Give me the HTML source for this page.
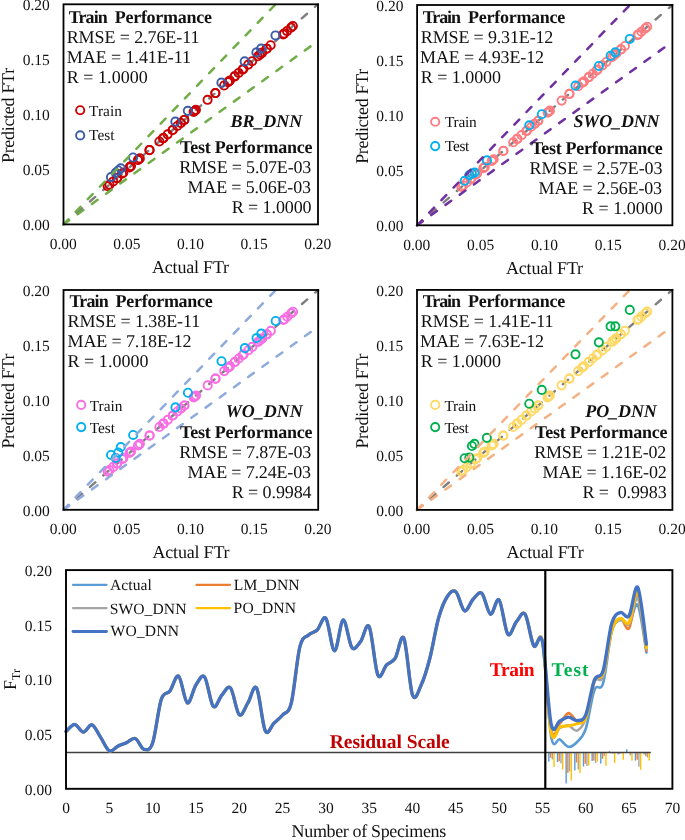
<!DOCTYPE html>
<html><head><meta charset="utf-8"><style>
html,body{margin:0;padding:0;background:#fff;width:685px;height:840px;overflow:hidden;}
svg{display:block;will-change:transform;font-family:"Liberation Serif", serif;text-rendering:geometricPrecision;}
</style></head><body>
<svg width="685" height="840" viewBox="0 0 685 840" font-family='"Liberation Serif", serif' fill="#111"><line x1="63.50" y1="224.40" x2="318.00" y2="4.30" stroke="#7F7F7F" stroke-width="2.4" stroke-dasharray="7 10.5" stroke-linecap="round"/>
<circle cx="130.18" cy="166.73" r="4.1" fill="none" stroke="#CC0000" stroke-width="1.9"/>
<circle cx="138.33" cy="159.69" r="4.1" fill="none" stroke="#CC0000" stroke-width="1.9"/>
<circle cx="129.48" cy="167.34" r="4.1" fill="none" stroke="#CC0000" stroke-width="1.9"/>
<circle cx="137.98" cy="159.99" r="4.1" fill="none" stroke="#CC0000" stroke-width="1.9"/>
<circle cx="123.31" cy="172.67" r="4.1" fill="none" stroke="#CC0000" stroke-width="1.9"/>
<circle cx="107.72" cy="186.16" r="4.1" fill="none" stroke="#CC0000" stroke-width="1.9"/>
<circle cx="113.19" cy="181.43" r="4.1" fill="none" stroke="#CC0000" stroke-width="1.9"/>
<circle cx="117.26" cy="177.90" r="4.1" fill="none" stroke="#CC0000" stroke-width="1.9"/>
<circle cx="122.03" cy="173.78" r="4.1" fill="none" stroke="#CC0000" stroke-width="1.9"/>
<circle cx="109.47" cy="184.65" r="4.1" fill="none" stroke="#CC0000" stroke-width="1.9"/>
<circle cx="116.80" cy="178.31" r="4.1" fill="none" stroke="#CC0000" stroke-width="1.9"/>
<circle cx="167.65" cy="134.33" r="4.1" fill="none" stroke="#CC0000" stroke-width="1.9"/>
<circle cx="177.31" cy="125.97" r="4.1" fill="none" stroke="#CC0000" stroke-width="1.9"/>
<circle cx="194.65" cy="110.98" r="4.1" fill="none" stroke="#CC0000" stroke-width="1.9"/>
<circle cx="163.46" cy="137.95" r="4.1" fill="none" stroke="#CC0000" stroke-width="1.9"/>
<circle cx="184.29" cy="119.94" r="4.1" fill="none" stroke="#CC0000" stroke-width="1.9"/>
<circle cx="193.60" cy="111.88" r="4.1" fill="none" stroke="#CC0000" stroke-width="1.9"/>
<circle cx="159.39" cy="141.47" r="4.1" fill="none" stroke="#CC0000" stroke-width="1.9"/>
<circle cx="172.65" cy="130.00" r="4.1" fill="none" stroke="#CC0000" stroke-width="1.9"/>
<circle cx="180.80" cy="122.95" r="4.1" fill="none" stroke="#CC0000" stroke-width="1.9"/>
<circle cx="149.61" cy="149.93" r="4.1" fill="none" stroke="#CC0000" stroke-width="1.9"/>
<circle cx="163.46" cy="137.95" r="4.1" fill="none" stroke="#CC0000" stroke-width="1.9"/>
<circle cx="180.80" cy="122.95" r="4.1" fill="none" stroke="#CC0000" stroke-width="1.9"/>
<circle cx="130.99" cy="166.03" r="4.1" fill="none" stroke="#CC0000" stroke-width="1.9"/>
<circle cx="139.84" cy="158.38" r="4.1" fill="none" stroke="#CC0000" stroke-width="1.9"/>
<circle cx="149.38" cy="150.13" r="4.1" fill="none" stroke="#CC0000" stroke-width="1.9"/>
<circle cx="163.00" cy="138.35" r="4.1" fill="none" stroke="#CC0000" stroke-width="1.9"/>
<circle cx="228.86" cy="81.39" r="4.1" fill="none" stroke="#CC0000" stroke-width="1.9"/>
<circle cx="242.48" cy="69.62" r="4.1" fill="none" stroke="#CC0000" stroke-width="1.9"/>
<circle cx="248.29" cy="64.58" r="4.1" fill="none" stroke="#CC0000" stroke-width="1.9"/>
<circle cx="261.91" cy="52.81" r="4.1" fill="none" stroke="#CC0000" stroke-width="1.9"/>
<circle cx="224.09" cy="85.52" r="4.1" fill="none" stroke="#CC0000" stroke-width="1.9"/>
<circle cx="259.93" cy="54.52" r="4.1" fill="none" stroke="#CC0000" stroke-width="1.9"/>
<circle cx="227.93" cy="82.20" r="4.1" fill="none" stroke="#CC0000" stroke-width="1.9"/>
<circle cx="234.68" cy="76.36" r="4.1" fill="none" stroke="#CC0000" stroke-width="1.9"/>
<circle cx="252.13" cy="61.26" r="4.1" fill="none" stroke="#CC0000" stroke-width="1.9"/>
<circle cx="195.93" cy="109.87" r="4.1" fill="none" stroke="#CC0000" stroke-width="1.9"/>
<circle cx="207.57" cy="99.81" r="4.1" fill="none" stroke="#CC0000" stroke-width="1.9"/>
<circle cx="215.36" cy="93.06" r="4.1" fill="none" stroke="#CC0000" stroke-width="1.9"/>
<circle cx="238.64" cy="72.94" r="4.1" fill="none" stroke="#CC0000" stroke-width="1.9"/>
<circle cx="172.65" cy="130.00" r="4.1" fill="none" stroke="#CC0000" stroke-width="1.9"/>
<circle cx="184.29" cy="119.94" r="4.1" fill="none" stroke="#CC0000" stroke-width="1.9"/>
<circle cx="215.36" cy="93.06" r="4.1" fill="none" stroke="#CC0000" stroke-width="1.9"/>
<circle cx="261.91" cy="52.81" r="4.1" fill="none" stroke="#CC0000" stroke-width="1.9"/>
<circle cx="287.05" cy="31.07" r="4.1" fill="none" stroke="#CC0000" stroke-width="1.9"/>
<circle cx="292.86" cy="26.04" r="4.1" fill="none" stroke="#CC0000" stroke-width="1.9"/>
<circle cx="270.64" cy="45.26" r="4.1" fill="none" stroke="#CC0000" stroke-width="1.9"/>
<circle cx="284.14" cy="33.59" r="4.1" fill="none" stroke="#CC0000" stroke-width="1.9"/>
<circle cx="291.00" cy="27.65" r="4.1" fill="none" stroke="#CC0000" stroke-width="1.9"/>
<circle cx="266.68" cy="48.68" r="4.1" fill="none" stroke="#CC0000" stroke-width="1.9"/>
<circle cx="283.21" cy="34.39" r="4.1" fill="none" stroke="#CC0000" stroke-width="1.9"/>
<circle cx="243.41" cy="68.81" r="4.1" fill="none" stroke="#CC0000" stroke-width="1.9"/>
<circle cx="257.95" cy="56.23" r="4.1" fill="none" stroke="#CC0000" stroke-width="1.9"/>
<circle cx="266.68" cy="48.68" r="4.1" fill="none" stroke="#CC0000" stroke-width="1.9"/>
<circle cx="229.91" cy="80.48" r="4.1" fill="none" stroke="#CC0000" stroke-width="1.9"/>
<circle cx="234.68" cy="76.36" r="4.1" fill="none" stroke="#CC0000" stroke-width="1.9"/>
<circle cx="115.67" cy="172.79" r="4.1" fill="none" stroke="#3A5CAA" stroke-width="1.9"/>
<circle cx="120.76" cy="168.38" r="4.1" fill="none" stroke="#3A5CAA" stroke-width="1.9"/>
<circle cx="110.96" cy="177.08" r="4.1" fill="none" stroke="#3A5CAA" stroke-width="1.9"/>
<circle cx="118.22" cy="170.48" r="4.1" fill="none" stroke="#3A5CAA" stroke-width="1.9"/>
<circle cx="133.11" cy="157.49" r="4.1" fill="none" stroke="#3A5CAA" stroke-width="1.9"/>
<circle cx="175.35" cy="121.61" r="4.1" fill="none" stroke="#3A5CAA" stroke-width="1.9"/>
<circle cx="187.82" cy="110.83" r="4.1" fill="none" stroke="#3A5CAA" stroke-width="1.9"/>
<circle cx="244.70" cy="61.42" r="4.1" fill="none" stroke="#3A5CAA" stroke-width="1.9"/>
<circle cx="261.12" cy="48.65" r="4.1" fill="none" stroke="#3A5CAA" stroke-width="1.9"/>
<circle cx="256.41" cy="52.39" r="4.1" fill="none" stroke="#3A5CAA" stroke-width="1.9"/>
<circle cx="275.50" cy="35.44" r="4.1" fill="none" stroke="#3A5CAA" stroke-width="1.9"/>
<circle cx="221.42" cy="82.66" r="4.1" fill="none" stroke="#3A5CAA" stroke-width="1.9"/>
<line x1="63.50" y1="224.40" x2="275.58" y2="4.30" stroke="#70AD47" stroke-width="2.5" stroke-dasharray="7 10.5" stroke-linecap="round"/>
<line x1="63.50" y1="224.40" x2="318.00" y2="40.98" stroke="#70AD47" stroke-width="2.5" stroke-dasharray="7 10.5" stroke-linecap="round"/>
<rect x="63.50" y="4.30" width="254.50" height="220.10" fill="none" stroke="#000" stroke-width="1.8"/>
<text x="49.80" y="230.40" font-size="15.5" text-anchor="end" xml:space="preserve">0.00</text>
<text x="49.80" y="175.38" font-size="15.5" text-anchor="end" xml:space="preserve">0.05</text>
<text x="49.80" y="120.35" font-size="15.5" text-anchor="end" xml:space="preserve">0.10</text>
<text x="49.80" y="65.33" font-size="15.5" text-anchor="end" xml:space="preserve">0.15</text>
<text x="49.80" y="10.30" font-size="15.5" text-anchor="end" xml:space="preserve">0.20</text>
<text x="63.20" y="248.60" font-size="15.5" text-anchor="middle" xml:space="preserve">0.00</text>
<text x="126.82" y="248.60" font-size="15.5" text-anchor="middle" xml:space="preserve">0.05</text>
<text x="190.45" y="248.60" font-size="15.5" text-anchor="middle" xml:space="preserve">0.10</text>
<text x="254.07" y="248.60" font-size="15.5" text-anchor="middle" xml:space="preserve">0.15</text>
<text x="317.70" y="248.60" font-size="15.5" text-anchor="middle" xml:space="preserve">0.20</text>
<text id="p1xt" x="152.00" y="272.60" font-size="18.0" textLength="77.08" lengthAdjust="spacing" xml:space="preserve">Actual FTr</text>
<text transform="translate(14.00,115.45) rotate(-90)" font-size="18.0" text-anchor="middle" textLength="95.2" lengthAdjust="spacing">Predicted FTr</text>
<circle cx="80.20" cy="110.20" r="4.1" fill="none" stroke="#CC0000" stroke-width="1.9"/>
<circle cx="80.20" cy="135.40" r="4.1" fill="none" stroke="#3A5CAA" stroke-width="1.9"/>
<text id="p1tTrain" x="68.70" y="23.10" font-size="18.0" font-weight="bold" textLength="39.17" lengthAdjust="spacing" xml:space="preserve">Train</text>
<text id="p1tPerf" x="114.70" y="23.10" font-size="18.0" font-weight="bold" textLength="97.31" lengthAdjust="spacing" xml:space="preserve">Performance</text>
<text id="p1tRMSE" x="66.70" y="43.00" font-size="18.0" textLength="132.71" lengthAdjust="spacing" xml:space="preserve">RMSE = 2.76E-11</text>
<text id="p1tMAE" x="66.80" y="63.00" font-size="18.0" textLength="124.12" lengthAdjust="spacing" xml:space="preserve">MAE = 1.41E-11</text>
<text id="p1tR" x="66.70" y="82.90" font-size="18.0" textLength="81.12" lengthAdjust="spacing" xml:space="preserve">R = 1.0000</text>
<text id="p1name" x="230.60" y="126.90" font-size="18.0" font-weight="bold" font-style="italic" textLength="71.54" lengthAdjust="spacing" xml:space="preserve">BR_DNN</text>
<text id="p1sTP" x="180.10" y="152.70" font-size="18.0" font-weight="bold" textLength="132.38" lengthAdjust="spacing" xml:space="preserve">Test Performance</text>
<text id="p1sRMSE" x="179.20" y="172.60" font-size="18.0" textLength="132.10" lengthAdjust="spacing" xml:space="preserve">RMSE = 5.07E-03</text>
<text id="p1sMAE" x="187.50" y="192.90" font-size="18.0" textLength="123.49" lengthAdjust="spacing" xml:space="preserve">MAE = 5.06E-03</text>
<text id="p1sR" x="231.80" y="212.70" font-size="18.0" textLength="79.78" lengthAdjust="spacing" xml:space="preserve">R = 1.0000</text>
<text id="p1lTrain" x="89.10" y="116.00" font-size="15.4" textLength="32.80" lengthAdjust="spacing" xml:space="preserve">Train</text>
<text id="p1lTest" x="89.10" y="140.20" font-size="15.4" textLength="25.44" lengthAdjust="spacing" xml:space="preserve">Test</text>
<line x1="417.10" y1="225.30" x2="672.40" y2="5.00" stroke="#7F7F7F" stroke-width="2.4" stroke-dasharray="7 10.5" stroke-linecap="round"/>
<circle cx="483.99" cy="167.58" r="4.1" fill="none" stroke="#FF7C80" stroke-width="1.9"/>
<circle cx="492.16" cy="160.53" r="4.1" fill="none" stroke="#FF7C80" stroke-width="1.9"/>
<circle cx="483.29" cy="168.19" r="4.1" fill="none" stroke="#FF7C80" stroke-width="1.9"/>
<circle cx="491.81" cy="160.83" r="4.1" fill="none" stroke="#FF7C80" stroke-width="1.9"/>
<circle cx="477.10" cy="173.52" r="4.1" fill="none" stroke="#FF7C80" stroke-width="1.9"/>
<circle cx="461.46" cy="187.02" r="4.1" fill="none" stroke="#FF7C80" stroke-width="1.9"/>
<circle cx="466.95" cy="182.29" r="4.1" fill="none" stroke="#FF7C80" stroke-width="1.9"/>
<circle cx="471.03" cy="178.76" r="4.1" fill="none" stroke="#FF7C80" stroke-width="1.9"/>
<circle cx="475.82" cy="174.63" r="4.1" fill="none" stroke="#FF7C80" stroke-width="1.9"/>
<circle cx="463.21" cy="185.51" r="4.1" fill="none" stroke="#FF7C80" stroke-width="1.9"/>
<circle cx="470.56" cy="179.16" r="4.1" fill="none" stroke="#FF7C80" stroke-width="1.9"/>
<circle cx="521.58" cy="135.15" r="4.1" fill="none" stroke="#FF7C80" stroke-width="1.9"/>
<circle cx="531.27" cy="126.78" r="4.1" fill="none" stroke="#FF7C80" stroke-width="1.9"/>
<circle cx="548.66" cy="111.78" r="4.1" fill="none" stroke="#FF7C80" stroke-width="1.9"/>
<circle cx="517.38" cy="138.77" r="4.1" fill="none" stroke="#FF7C80" stroke-width="1.9"/>
<circle cx="538.27" cy="120.74" r="4.1" fill="none" stroke="#FF7C80" stroke-width="1.9"/>
<circle cx="547.61" cy="112.68" r="4.1" fill="none" stroke="#FF7C80" stroke-width="1.9"/>
<circle cx="513.29" cy="142.30" r="4.1" fill="none" stroke="#FF7C80" stroke-width="1.9"/>
<circle cx="526.60" cy="130.81" r="4.1" fill="none" stroke="#FF7C80" stroke-width="1.9"/>
<circle cx="534.77" cy="123.76" r="4.1" fill="none" stroke="#FF7C80" stroke-width="1.9"/>
<circle cx="503.48" cy="150.76" r="4.1" fill="none" stroke="#FF7C80" stroke-width="1.9"/>
<circle cx="517.38" cy="138.77" r="4.1" fill="none" stroke="#FF7C80" stroke-width="1.9"/>
<circle cx="534.77" cy="123.76" r="4.1" fill="none" stroke="#FF7C80" stroke-width="1.9"/>
<circle cx="484.81" cy="166.88" r="4.1" fill="none" stroke="#FF7C80" stroke-width="1.9"/>
<circle cx="493.68" cy="159.22" r="4.1" fill="none" stroke="#FF7C80" stroke-width="1.9"/>
<circle cx="503.25" cy="150.96" r="4.1" fill="none" stroke="#FF7C80" stroke-width="1.9"/>
<circle cx="516.91" cy="139.17" r="4.1" fill="none" stroke="#FF7C80" stroke-width="1.9"/>
<circle cx="582.98" cy="82.16" r="4.1" fill="none" stroke="#FF7C80" stroke-width="1.9"/>
<circle cx="596.64" cy="70.37" r="4.1" fill="none" stroke="#FF7C80" stroke-width="1.9"/>
<circle cx="602.48" cy="65.34" r="4.1" fill="none" stroke="#FF7C80" stroke-width="1.9"/>
<circle cx="616.13" cy="53.55" r="4.1" fill="none" stroke="#FF7C80" stroke-width="1.9"/>
<circle cx="578.19" cy="86.29" r="4.1" fill="none" stroke="#FF7C80" stroke-width="1.9"/>
<circle cx="614.15" cy="55.27" r="4.1" fill="none" stroke="#FF7C80" stroke-width="1.9"/>
<circle cx="582.05" cy="82.97" r="4.1" fill="none" stroke="#FF7C80" stroke-width="1.9"/>
<circle cx="588.82" cy="77.12" r="4.1" fill="none" stroke="#FF7C80" stroke-width="1.9"/>
<circle cx="606.33" cy="62.01" r="4.1" fill="none" stroke="#FF7C80" stroke-width="1.9"/>
<circle cx="549.94" cy="110.67" r="4.1" fill="none" stroke="#FF7C80" stroke-width="1.9"/>
<circle cx="561.62" cy="100.59" r="4.1" fill="none" stroke="#FF7C80" stroke-width="1.9"/>
<circle cx="569.44" cy="93.85" r="4.1" fill="none" stroke="#FF7C80" stroke-width="1.9"/>
<circle cx="592.79" cy="73.70" r="4.1" fill="none" stroke="#FF7C80" stroke-width="1.9"/>
<circle cx="526.60" cy="130.81" r="4.1" fill="none" stroke="#FF7C80" stroke-width="1.9"/>
<circle cx="538.27" cy="120.74" r="4.1" fill="none" stroke="#FF7C80" stroke-width="1.9"/>
<circle cx="569.44" cy="93.85" r="4.1" fill="none" stroke="#FF7C80" stroke-width="1.9"/>
<circle cx="616.13" cy="53.55" r="4.1" fill="none" stroke="#FF7C80" stroke-width="1.9"/>
<circle cx="641.35" cy="31.79" r="4.1" fill="none" stroke="#FF7C80" stroke-width="1.9"/>
<circle cx="647.19" cy="26.76" r="4.1" fill="none" stroke="#FF7C80" stroke-width="1.9"/>
<circle cx="624.89" cy="46.00" r="4.1" fill="none" stroke="#FF7C80" stroke-width="1.9"/>
<circle cx="638.43" cy="34.31" r="4.1" fill="none" stroke="#FF7C80" stroke-width="1.9"/>
<circle cx="645.32" cy="28.37" r="4.1" fill="none" stroke="#FF7C80" stroke-width="1.9"/>
<circle cx="620.92" cy="49.42" r="4.1" fill="none" stroke="#FF7C80" stroke-width="1.9"/>
<circle cx="637.50" cy="35.12" r="4.1" fill="none" stroke="#FF7C80" stroke-width="1.9"/>
<circle cx="597.57" cy="69.57" r="4.1" fill="none" stroke="#FF7C80" stroke-width="1.9"/>
<circle cx="612.16" cy="56.98" r="4.1" fill="none" stroke="#FF7C80" stroke-width="1.9"/>
<circle cx="620.92" cy="49.42" r="4.1" fill="none" stroke="#FF7C80" stroke-width="1.9"/>
<circle cx="584.03" cy="81.25" r="4.1" fill="none" stroke="#FF7C80" stroke-width="1.9"/>
<circle cx="588.82" cy="77.12" r="4.1" fill="none" stroke="#FF7C80" stroke-width="1.9"/>
<circle cx="469.44" cy="174.96" r="4.1" fill="none" stroke="#00B0F0" stroke-width="1.9"/>
<circle cx="474.54" cy="172.65" r="4.1" fill="none" stroke="#00B0F0" stroke-width="1.9"/>
<circle cx="464.71" cy="180.80" r="4.1" fill="none" stroke="#00B0F0" stroke-width="1.9"/>
<circle cx="471.99" cy="173.53" r="4.1" fill="none" stroke="#00B0F0" stroke-width="1.9"/>
<circle cx="486.92" cy="160.42" r="4.1" fill="none" stroke="#00B0F0" stroke-width="1.9"/>
<circle cx="529.30" cy="125.28" r="4.1" fill="none" stroke="#00B0F0" stroke-width="1.9"/>
<circle cx="541.81" cy="114.27" r="4.1" fill="none" stroke="#00B0F0" stroke-width="1.9"/>
<circle cx="598.87" cy="66.02" r="4.1" fill="none" stroke="#00B0F0" stroke-width="1.9"/>
<circle cx="615.34" cy="52.36" r="4.1" fill="none" stroke="#00B0F0" stroke-width="1.9"/>
<circle cx="610.62" cy="55.89" r="4.1" fill="none" stroke="#00B0F0" stroke-width="1.9"/>
<circle cx="629.76" cy="38.93" r="4.1" fill="none" stroke="#00B0F0" stroke-width="1.9"/>
<circle cx="575.51" cy="85.63" r="4.1" fill="none" stroke="#00B0F0" stroke-width="1.9"/>
<line x1="417.10" y1="225.30" x2="629.85" y2="5.00" stroke="#7030A0" stroke-width="2.5" stroke-dasharray="7 10.5" stroke-linecap="round"/>
<line x1="417.10" y1="225.30" x2="672.40" y2="41.72" stroke="#7030A0" stroke-width="2.5" stroke-dasharray="7 10.5" stroke-linecap="round"/>
<rect x="417.10" y="5.00" width="255.30" height="220.30" fill="none" stroke="#000" stroke-width="1.8"/>
<text x="403.40" y="231.30" font-size="15.5" text-anchor="end" xml:space="preserve">0.00</text>
<text x="403.40" y="176.23" font-size="15.5" text-anchor="end" xml:space="preserve">0.05</text>
<text x="403.40" y="121.15" font-size="15.5" text-anchor="end" xml:space="preserve">0.10</text>
<text x="403.40" y="66.07" font-size="15.5" text-anchor="end" xml:space="preserve">0.15</text>
<text x="403.40" y="11.00" font-size="15.5" text-anchor="end" xml:space="preserve">0.20</text>
<text x="416.80" y="249.50" font-size="15.5" text-anchor="middle" xml:space="preserve">0.00</text>
<text x="480.62" y="249.50" font-size="15.5" text-anchor="middle" xml:space="preserve">0.05</text>
<text x="544.45" y="249.50" font-size="15.5" text-anchor="middle" xml:space="preserve">0.10</text>
<text x="608.28" y="249.50" font-size="15.5" text-anchor="middle" xml:space="preserve">0.15</text>
<text x="672.10" y="249.50" font-size="15.5" text-anchor="middle" xml:space="preserve">0.20</text>
<text id="p2xt" x="506.00" y="273.50" font-size="18.0" textLength="77.08" lengthAdjust="spacing" xml:space="preserve">Actual FTr</text>
<text transform="translate(367.60,116.25) rotate(-90)" font-size="18.0" text-anchor="middle" textLength="95.2" lengthAdjust="spacing">Predicted FTr</text>
<circle cx="435.20" cy="121.80" r="4.1" fill="none" stroke="#FF7C80" stroke-width="1.9"/>
<circle cx="435.20" cy="146.10" r="4.1" fill="none" stroke="#00B0F0" stroke-width="1.9"/>
<text id="p2tTrain" x="422.80" y="23.10" font-size="18.0" font-weight="bold" textLength="38.17" lengthAdjust="spacing" xml:space="preserve">Train</text>
<text id="p2tPerf" x="468.00" y="23.10" font-size="18.0" font-weight="bold" textLength="97.31" lengthAdjust="spacing" xml:space="preserve">Performance</text>
<text id="p2tRMSE" x="420.80" y="43.00" font-size="18.0" textLength="132.53" lengthAdjust="spacing" xml:space="preserve">RMSE = 9.31E-12</text>
<text id="p2tMAE" x="420.10" y="63.00" font-size="18.0" textLength="123.92" lengthAdjust="spacing" xml:space="preserve">MAE = 4.93E-12</text>
<text id="p2tR" x="420.80" y="82.90" font-size="18.0" textLength="80.23" lengthAdjust="spacing" xml:space="preserve">R = 1.0000</text>
<text id="p2name" x="573.50" y="126.90" font-size="18.0" font-weight="bold" font-style="italic" textLength="86.08" lengthAdjust="spacing" xml:space="preserve">SWO_DNN</text>
<text id="p2sTP" x="531.20" y="154.00" font-size="18.0" font-weight="bold" textLength="131.53" lengthAdjust="spacing" xml:space="preserve">Test Performance</text>
<text id="p2sRMSE" x="529.50" y="173.90" font-size="18.0" textLength="132.96" lengthAdjust="spacing" xml:space="preserve">RMSE = 2.57E-03</text>
<text id="p2sMAE" x="538.60" y="194.20" font-size="18.0" textLength="123.49" lengthAdjust="spacing" xml:space="preserve">MAE = 2.56E-03</text>
<text id="p2sR" x="582.10" y="214.00" font-size="18.0" textLength="80.67" lengthAdjust="spacing" xml:space="preserve">R = 1.0000</text>
<text id="p2lTrain" x="445.00" y="126.60" font-size="15.4" textLength="31.80" lengthAdjust="spacing" xml:space="preserve">Train</text>
<text id="p2lTest" x="445.00" y="150.70" font-size="15.4" textLength="24.37" lengthAdjust="spacing" xml:space="preserve">Test</text>
<line x1="63.50" y1="509.80" x2="318.20" y2="290.00" stroke="#7F7F7F" stroke-width="2.4" stroke-dasharray="7 10.5" stroke-linecap="round"/>
<circle cx="130.23" cy="452.21" r="4.1" fill="none" stroke="#FA6EE4" stroke-width="1.9"/>
<circle cx="138.38" cy="445.18" r="4.1" fill="none" stroke="#FA6EE4" stroke-width="1.9"/>
<circle cx="129.53" cy="452.81" r="4.1" fill="none" stroke="#FA6EE4" stroke-width="1.9"/>
<circle cx="138.03" cy="445.48" r="4.1" fill="none" stroke="#FA6EE4" stroke-width="1.9"/>
<circle cx="123.36" cy="458.14" r="4.1" fill="none" stroke="#FA6EE4" stroke-width="1.9"/>
<circle cx="107.76" cy="471.61" r="4.1" fill="none" stroke="#FA6EE4" stroke-width="1.9"/>
<circle cx="113.23" cy="466.89" r="4.1" fill="none" stroke="#FA6EE4" stroke-width="1.9"/>
<circle cx="117.30" cy="463.37" r="4.1" fill="none" stroke="#FA6EE4" stroke-width="1.9"/>
<circle cx="122.08" cy="459.25" r="4.1" fill="none" stroke="#FA6EE4" stroke-width="1.9"/>
<circle cx="109.50" cy="470.10" r="4.1" fill="none" stroke="#FA6EE4" stroke-width="1.9"/>
<circle cx="116.84" cy="463.77" r="4.1" fill="none" stroke="#FA6EE4" stroke-width="1.9"/>
<circle cx="167.73" cy="419.85" r="4.1" fill="none" stroke="#FA6EE4" stroke-width="1.9"/>
<circle cx="177.40" cy="411.51" r="4.1" fill="none" stroke="#FA6EE4" stroke-width="1.9"/>
<circle cx="194.75" cy="396.53" r="4.1" fill="none" stroke="#FA6EE4" stroke-width="1.9"/>
<circle cx="163.54" cy="423.47" r="4.1" fill="none" stroke="#FA6EE4" stroke-width="1.9"/>
<circle cx="184.39" cy="405.48" r="4.1" fill="none" stroke="#FA6EE4" stroke-width="1.9"/>
<circle cx="193.70" cy="397.44" r="4.1" fill="none" stroke="#FA6EE4" stroke-width="1.9"/>
<circle cx="159.46" cy="426.99" r="4.1" fill="none" stroke="#FA6EE4" stroke-width="1.9"/>
<circle cx="172.74" cy="415.53" r="4.1" fill="none" stroke="#FA6EE4" stroke-width="1.9"/>
<circle cx="180.89" cy="408.49" r="4.1" fill="none" stroke="#FA6EE4" stroke-width="1.9"/>
<circle cx="149.68" cy="435.43" r="4.1" fill="none" stroke="#FA6EE4" stroke-width="1.9"/>
<circle cx="163.54" cy="423.47" r="4.1" fill="none" stroke="#FA6EE4" stroke-width="1.9"/>
<circle cx="180.89" cy="408.49" r="4.1" fill="none" stroke="#FA6EE4" stroke-width="1.9"/>
<circle cx="131.05" cy="451.51" r="4.1" fill="none" stroke="#FA6EE4" stroke-width="1.9"/>
<circle cx="139.90" cy="443.87" r="4.1" fill="none" stroke="#FA6EE4" stroke-width="1.9"/>
<circle cx="149.45" cy="435.63" r="4.1" fill="none" stroke="#FA6EE4" stroke-width="1.9"/>
<circle cx="163.07" cy="423.87" r="4.1" fill="none" stroke="#FA6EE4" stroke-width="1.9"/>
<circle cx="228.99" cy="366.99" r="4.1" fill="none" stroke="#FA6EE4" stroke-width="1.9"/>
<circle cx="242.62" cy="355.23" r="4.1" fill="none" stroke="#FA6EE4" stroke-width="1.9"/>
<circle cx="248.44" cy="350.20" r="4.1" fill="none" stroke="#FA6EE4" stroke-width="1.9"/>
<circle cx="262.07" cy="338.44" r="4.1" fill="none" stroke="#FA6EE4" stroke-width="1.9"/>
<circle cx="224.22" cy="371.11" r="4.1" fill="none" stroke="#FA6EE4" stroke-width="1.9"/>
<circle cx="260.09" cy="340.15" r="4.1" fill="none" stroke="#FA6EE4" stroke-width="1.9"/>
<circle cx="228.06" cy="367.79" r="4.1" fill="none" stroke="#FA6EE4" stroke-width="1.9"/>
<circle cx="234.81" cy="361.96" r="4.1" fill="none" stroke="#FA6EE4" stroke-width="1.9"/>
<circle cx="252.28" cy="346.88" r="4.1" fill="none" stroke="#FA6EE4" stroke-width="1.9"/>
<circle cx="196.03" cy="395.43" r="4.1" fill="none" stroke="#FA6EE4" stroke-width="1.9"/>
<circle cx="207.68" cy="385.38" r="4.1" fill="none" stroke="#FA6EE4" stroke-width="1.9"/>
<circle cx="215.48" cy="378.64" r="4.1" fill="none" stroke="#FA6EE4" stroke-width="1.9"/>
<circle cx="238.77" cy="358.54" r="4.1" fill="none" stroke="#FA6EE4" stroke-width="1.9"/>
<circle cx="172.74" cy="415.53" r="4.1" fill="none" stroke="#FA6EE4" stroke-width="1.9"/>
<circle cx="184.39" cy="405.48" r="4.1" fill="none" stroke="#FA6EE4" stroke-width="1.9"/>
<circle cx="215.48" cy="378.64" r="4.1" fill="none" stroke="#FA6EE4" stroke-width="1.9"/>
<circle cx="262.07" cy="338.44" r="4.1" fill="none" stroke="#FA6EE4" stroke-width="1.9"/>
<circle cx="287.22" cy="316.73" r="4.1" fill="none" stroke="#FA6EE4" stroke-width="1.9"/>
<circle cx="293.04" cy="311.71" r="4.1" fill="none" stroke="#FA6EE4" stroke-width="1.9"/>
<circle cx="270.80" cy="330.90" r="4.1" fill="none" stroke="#FA6EE4" stroke-width="1.9"/>
<circle cx="284.31" cy="319.25" r="4.1" fill="none" stroke="#FA6EE4" stroke-width="1.9"/>
<circle cx="291.18" cy="313.32" r="4.1" fill="none" stroke="#FA6EE4" stroke-width="1.9"/>
<circle cx="266.84" cy="334.32" r="4.1" fill="none" stroke="#FA6EE4" stroke-width="1.9"/>
<circle cx="283.38" cy="320.05" r="4.1" fill="none" stroke="#FA6EE4" stroke-width="1.9"/>
<circle cx="243.55" cy="354.42" r="4.1" fill="none" stroke="#FA6EE4" stroke-width="1.9"/>
<circle cx="258.11" cy="341.86" r="4.1" fill="none" stroke="#FA6EE4" stroke-width="1.9"/>
<circle cx="266.84" cy="334.32" r="4.1" fill="none" stroke="#FA6EE4" stroke-width="1.9"/>
<circle cx="230.04" cy="366.08" r="4.1" fill="none" stroke="#FA6EE4" stroke-width="1.9"/>
<circle cx="234.81" cy="361.96" r="4.1" fill="none" stroke="#FA6EE4" stroke-width="1.9"/>
<circle cx="115.71" cy="457.93" r="4.1" fill="none" stroke="#00B0F0" stroke-width="1.9"/>
<circle cx="120.81" cy="447.05" r="4.1" fill="none" stroke="#00B0F0" stroke-width="1.9"/>
<circle cx="111.00" cy="454.96" r="4.1" fill="none" stroke="#00B0F0" stroke-width="1.9"/>
<circle cx="118.26" cy="452.65" r="4.1" fill="none" stroke="#00B0F0" stroke-width="1.9"/>
<circle cx="133.16" cy="434.96" r="4.1" fill="none" stroke="#00B0F0" stroke-width="1.9"/>
<circle cx="175.44" cy="407.37" r="4.1" fill="none" stroke="#00B0F0" stroke-width="1.9"/>
<circle cx="187.92" cy="392.76" r="4.1" fill="none" stroke="#00B0F0" stroke-width="1.9"/>
<circle cx="244.85" cy="348.14" r="4.1" fill="none" stroke="#00B0F0" stroke-width="1.9"/>
<circle cx="261.27" cy="333.63" r="4.1" fill="none" stroke="#00B0F0" stroke-width="1.9"/>
<circle cx="256.56" cy="338.03" r="4.1" fill="none" stroke="#00B0F0" stroke-width="1.9"/>
<circle cx="275.67" cy="320.99" r="4.1" fill="none" stroke="#00B0F0" stroke-width="1.9"/>
<circle cx="221.54" cy="361.22" r="4.1" fill="none" stroke="#00B0F0" stroke-width="1.9"/>
<line x1="63.50" y1="509.80" x2="275.75" y2="290.00" stroke="#8FAADC" stroke-width="2.5" stroke-dasharray="7 10.5" stroke-linecap="round"/>
<line x1="63.50" y1="509.80" x2="318.20" y2="326.63" stroke="#8FAADC" stroke-width="2.5" stroke-dasharray="7 10.5" stroke-linecap="round"/>
<rect x="63.50" y="290.00" width="254.70" height="219.80" fill="none" stroke="#000" stroke-width="1.8"/>
<text x="49.80" y="515.80" font-size="15.5" text-anchor="end" xml:space="preserve">0.00</text>
<text x="49.80" y="460.85" font-size="15.5" text-anchor="end" xml:space="preserve">0.05</text>
<text x="49.80" y="405.90" font-size="15.5" text-anchor="end" xml:space="preserve">0.10</text>
<text x="49.80" y="350.95" font-size="15.5" text-anchor="end" xml:space="preserve">0.15</text>
<text x="49.80" y="296.00" font-size="15.5" text-anchor="end" xml:space="preserve">0.20</text>
<text x="63.20" y="534.00" font-size="15.5" text-anchor="middle" xml:space="preserve">0.00</text>
<text x="126.88" y="534.00" font-size="15.5" text-anchor="middle" xml:space="preserve">0.05</text>
<text x="190.55" y="534.00" font-size="15.5" text-anchor="middle" xml:space="preserve">0.10</text>
<text x="254.22" y="534.00" font-size="15.5" text-anchor="middle" xml:space="preserve">0.15</text>
<text x="317.90" y="534.00" font-size="15.5" text-anchor="middle" xml:space="preserve">0.20</text>
<text id="p3xt" x="152.50" y="558.00" font-size="18.0" textLength="77.08" lengthAdjust="spacing" xml:space="preserve">Actual FTr</text>
<text transform="translate(14.00,401.00) rotate(-90)" font-size="18.0" text-anchor="middle" textLength="95.2" lengthAdjust="spacing">Predicted FTr</text>
<circle cx="81.20" cy="404.90" r="4.1" fill="none" stroke="#FA6EE4" stroke-width="1.9"/>
<circle cx="81.20" cy="427.10" r="4.1" fill="none" stroke="#00B0F0" stroke-width="1.9"/>
<text id="p3tTrain" x="69.50" y="307.30" font-size="18.0" font-weight="bold" textLength="39.17" lengthAdjust="spacing" xml:space="preserve">Train</text>
<text id="p3tPerf" x="115.50" y="307.30" font-size="18.0" font-weight="bold" textLength="97.31" lengthAdjust="spacing" xml:space="preserve">Performance</text>
<text id="p3tRMSE" x="67.50" y="327.20" font-size="18.0" textLength="132.71" lengthAdjust="spacing" xml:space="preserve">RMSE = 1.38E-11</text>
<text id="p3tMAE" x="67.60" y="347.20" font-size="18.0" textLength="123.92" lengthAdjust="spacing" xml:space="preserve">MAE = 7.18E-12</text>
<text id="p3tR" x="67.50" y="367.10" font-size="18.0" textLength="81.12" lengthAdjust="spacing" xml:space="preserve">R = 1.0000</text>
<text id="p3name" x="225.80" y="416.50" font-size="18.0" font-weight="bold" font-style="italic" textLength="77.02" lengthAdjust="spacing" xml:space="preserve">WO_DNN</text>
<text id="p3sTP" x="180.10" y="438.10" font-size="18.0" font-weight="bold" textLength="132.38" lengthAdjust="spacing" xml:space="preserve">Test Performance</text>
<text id="p3sRMSE" x="179.20" y="458.00" font-size="18.0" textLength="132.10" lengthAdjust="spacing" xml:space="preserve">RMSE = 7.87E-03</text>
<text id="p3sMAE" x="187.50" y="478.30" font-size="18.0" textLength="123.49" lengthAdjust="spacing" xml:space="preserve">MAE = 7.24E-03</text>
<text id="p3sR" x="231.80" y="498.10" font-size="18.0" textLength="79.78" lengthAdjust="spacing" xml:space="preserve">R = 0.9984</text>
<text id="p3lTrain" x="89.70" y="410.50" font-size="15.4" textLength="32.80" lengthAdjust="spacing" xml:space="preserve">Train</text>
<text id="p3lTest" x="89.70" y="432.60" font-size="15.4" textLength="25.44" lengthAdjust="spacing" xml:space="preserve">Test</text>
<line x1="417.00" y1="509.90" x2="672.40" y2="289.90" stroke="#7F7F7F" stroke-width="2.4" stroke-dasharray="7 10.5" stroke-linecap="round"/>
<circle cx="483.92" cy="452.26" r="4.1" fill="none" stroke="#FFD966" stroke-width="1.9"/>
<circle cx="492.09" cy="445.22" r="4.1" fill="none" stroke="#FFD966" stroke-width="1.9"/>
<circle cx="483.21" cy="452.86" r="4.1" fill="none" stroke="#FFD966" stroke-width="1.9"/>
<circle cx="491.74" cy="445.52" r="4.1" fill="none" stroke="#FFD966" stroke-width="1.9"/>
<circle cx="477.03" cy="458.19" r="4.1" fill="none" stroke="#FFD966" stroke-width="1.9"/>
<circle cx="461.38" cy="471.67" r="4.1" fill="none" stroke="#FFD966" stroke-width="1.9"/>
<circle cx="466.87" cy="466.95" r="4.1" fill="none" stroke="#FFD966" stroke-width="1.9"/>
<circle cx="470.95" cy="463.43" r="4.1" fill="none" stroke="#FFD966" stroke-width="1.9"/>
<circle cx="475.74" cy="459.30" r="4.1" fill="none" stroke="#FFD966" stroke-width="1.9"/>
<circle cx="463.13" cy="470.17" r="4.1" fill="none" stroke="#FFD966" stroke-width="1.9"/>
<circle cx="470.49" cy="463.83" r="4.1" fill="none" stroke="#FFD966" stroke-width="1.9"/>
<circle cx="521.52" cy="419.87" r="4.1" fill="none" stroke="#FFD966" stroke-width="1.9"/>
<circle cx="531.21" cy="411.52" r="4.1" fill="none" stroke="#FFD966" stroke-width="1.9"/>
<circle cx="548.61" cy="396.53" r="4.1" fill="none" stroke="#FFD966" stroke-width="1.9"/>
<circle cx="517.31" cy="423.49" r="4.1" fill="none" stroke="#FFD966" stroke-width="1.9"/>
<circle cx="538.22" cy="405.48" r="4.1" fill="none" stroke="#FFD966" stroke-width="1.9"/>
<circle cx="547.56" cy="397.44" r="4.1" fill="none" stroke="#FFD966" stroke-width="1.9"/>
<circle cx="513.23" cy="427.01" r="4.1" fill="none" stroke="#FFD966" stroke-width="1.9"/>
<circle cx="526.54" cy="415.54" r="4.1" fill="none" stroke="#FFD966" stroke-width="1.9"/>
<circle cx="534.72" cy="408.50" r="4.1" fill="none" stroke="#FFD966" stroke-width="1.9"/>
<circle cx="503.42" cy="435.46" r="4.1" fill="none" stroke="#FFD966" stroke-width="1.9"/>
<circle cx="517.31" cy="423.49" r="4.1" fill="none" stroke="#FFD966" stroke-width="1.9"/>
<circle cx="534.72" cy="408.50" r="4.1" fill="none" stroke="#FFD966" stroke-width="1.9"/>
<circle cx="484.73" cy="451.56" r="4.1" fill="none" stroke="#FFD966" stroke-width="1.9"/>
<circle cx="493.61" cy="443.91" r="4.1" fill="none" stroke="#FFD966" stroke-width="1.9"/>
<circle cx="503.18" cy="435.66" r="4.1" fill="none" stroke="#FFD966" stroke-width="1.9"/>
<circle cx="516.85" cy="423.89" r="4.1" fill="none" stroke="#FFD966" stroke-width="1.9"/>
<circle cx="582.95" cy="366.96" r="4.1" fill="none" stroke="#FFD966" stroke-width="1.9"/>
<circle cx="596.61" cy="355.19" r="4.1" fill="none" stroke="#FFD966" stroke-width="1.9"/>
<circle cx="602.45" cy="350.16" r="4.1" fill="none" stroke="#FFD966" stroke-width="1.9"/>
<circle cx="616.11" cy="338.39" r="4.1" fill="none" stroke="#FFD966" stroke-width="1.9"/>
<circle cx="578.16" cy="371.08" r="4.1" fill="none" stroke="#FFD966" stroke-width="1.9"/>
<circle cx="614.13" cy="340.10" r="4.1" fill="none" stroke="#FFD966" stroke-width="1.9"/>
<circle cx="582.01" cy="367.76" r="4.1" fill="none" stroke="#FFD966" stroke-width="1.9"/>
<circle cx="588.78" cy="361.93" r="4.1" fill="none" stroke="#FFD966" stroke-width="1.9"/>
<circle cx="606.30" cy="346.84" r="4.1" fill="none" stroke="#FFD966" stroke-width="1.9"/>
<circle cx="549.90" cy="395.42" r="4.1" fill="none" stroke="#FFD966" stroke-width="1.9"/>
<circle cx="561.57" cy="385.36" r="4.1" fill="none" stroke="#FFD966" stroke-width="1.9"/>
<circle cx="569.40" cy="378.62" r="4.1" fill="none" stroke="#FFD966" stroke-width="1.9"/>
<circle cx="592.76" cy="358.51" r="4.1" fill="none" stroke="#FFD966" stroke-width="1.9"/>
<circle cx="526.54" cy="415.54" r="4.1" fill="none" stroke="#FFD966" stroke-width="1.9"/>
<circle cx="538.22" cy="405.48" r="4.1" fill="none" stroke="#FFD966" stroke-width="1.9"/>
<circle cx="569.40" cy="378.62" r="4.1" fill="none" stroke="#FFD966" stroke-width="1.9"/>
<circle cx="616.11" cy="338.39" r="4.1" fill="none" stroke="#FFD966" stroke-width="1.9"/>
<circle cx="641.34" cy="316.66" r="4.1" fill="none" stroke="#FFD966" stroke-width="1.9"/>
<circle cx="647.18" cy="311.63" r="4.1" fill="none" stroke="#FFD966" stroke-width="1.9"/>
<circle cx="624.87" cy="330.84" r="4.1" fill="none" stroke="#FFD966" stroke-width="1.9"/>
<circle cx="638.42" cy="319.17" r="4.1" fill="none" stroke="#FFD966" stroke-width="1.9"/>
<circle cx="645.31" cy="313.24" r="4.1" fill="none" stroke="#FFD966" stroke-width="1.9"/>
<circle cx="620.90" cy="334.26" r="4.1" fill="none" stroke="#FFD966" stroke-width="1.9"/>
<circle cx="637.48" cy="319.98" r="4.1" fill="none" stroke="#FFD966" stroke-width="1.9"/>
<circle cx="597.54" cy="354.38" r="4.1" fill="none" stroke="#FFD966" stroke-width="1.9"/>
<circle cx="612.14" cy="341.81" r="4.1" fill="none" stroke="#FFD966" stroke-width="1.9"/>
<circle cx="620.90" cy="334.26" r="4.1" fill="none" stroke="#FFD966" stroke-width="1.9"/>
<circle cx="584.00" cy="366.05" r="4.1" fill="none" stroke="#FFD966" stroke-width="1.9"/>
<circle cx="588.78" cy="361.93" r="4.1" fill="none" stroke="#FFD966" stroke-width="1.9"/>
<circle cx="469.36" cy="457.65" r="4.1" fill="none" stroke="#00B050" stroke-width="1.9"/>
<circle cx="474.46" cy="443.90" r="4.1" fill="none" stroke="#00B050" stroke-width="1.9"/>
<circle cx="464.63" cy="458.20" r="4.1" fill="none" stroke="#00B050" stroke-width="1.9"/>
<circle cx="471.91" cy="445.99" r="4.1" fill="none" stroke="#00B050" stroke-width="1.9"/>
<circle cx="486.85" cy="437.85" r="4.1" fill="none" stroke="#00B050" stroke-width="1.9"/>
<circle cx="529.25" cy="403.75" r="4.1" fill="none" stroke="#00B050" stroke-width="1.9"/>
<circle cx="541.76" cy="389.89" r="4.1" fill="none" stroke="#00B050" stroke-width="1.9"/>
<circle cx="598.84" cy="342.37" r="4.1" fill="none" stroke="#00B050" stroke-width="1.9"/>
<circle cx="615.32" cy="326.31" r="4.1" fill="none" stroke="#00B050" stroke-width="1.9"/>
<circle cx="610.59" cy="326.31" r="4.1" fill="none" stroke="#00B050" stroke-width="1.9"/>
<circle cx="629.75" cy="309.92" r="4.1" fill="none" stroke="#00B050" stroke-width="1.9"/>
<circle cx="575.48" cy="354.36" r="4.1" fill="none" stroke="#00B050" stroke-width="1.9"/>
<line x1="417.00" y1="509.90" x2="629.83" y2="289.90" stroke="#F4B183" stroke-width="2.5" stroke-dasharray="7 10.5" stroke-linecap="round"/>
<line x1="417.00" y1="509.90" x2="672.40" y2="326.57" stroke="#F4B183" stroke-width="2.5" stroke-dasharray="7 10.5" stroke-linecap="round"/>
<rect x="417.00" y="289.90" width="255.40" height="220.00" fill="none" stroke="#000" stroke-width="1.8"/>
<text x="403.30" y="515.90" font-size="15.5" text-anchor="end" xml:space="preserve">0.00</text>
<text x="403.30" y="460.90" font-size="15.5" text-anchor="end" xml:space="preserve">0.05</text>
<text x="403.30" y="405.90" font-size="15.5" text-anchor="end" xml:space="preserve">0.10</text>
<text x="403.30" y="350.90" font-size="15.5" text-anchor="end" xml:space="preserve">0.15</text>
<text x="403.30" y="295.90" font-size="15.5" text-anchor="end" xml:space="preserve">0.20</text>
<text x="416.70" y="534.10" font-size="15.5" text-anchor="middle" xml:space="preserve">0.00</text>
<text x="480.55" y="534.10" font-size="15.5" text-anchor="middle" xml:space="preserve">0.05</text>
<text x="544.40" y="534.10" font-size="15.5" text-anchor="middle" xml:space="preserve">0.10</text>
<text x="608.25" y="534.10" font-size="15.5" text-anchor="middle" xml:space="preserve">0.15</text>
<text x="672.10" y="534.10" font-size="15.5" text-anchor="middle" xml:space="preserve">0.20</text>
<text id="p4xt" x="506.55" y="558.10" font-size="18.0" textLength="77.08" lengthAdjust="spacing" xml:space="preserve">Actual FTr</text>
<text transform="translate(367.50,401.00) rotate(-90)" font-size="18.0" text-anchor="middle" textLength="95.2" lengthAdjust="spacing">Predicted FTr</text>
<circle cx="435.20" cy="404.90" r="4.1" fill="none" stroke="#FFD966" stroke-width="1.9"/>
<circle cx="435.20" cy="427.10" r="4.1" fill="none" stroke="#00B050" stroke-width="1.9"/>
<text id="p4tTrain" x="422.80" y="307.30" font-size="18.0" font-weight="bold" textLength="38.17" lengthAdjust="spacing" xml:space="preserve">Train</text>
<text id="p4tPerf" x="468.00" y="307.30" font-size="18.0" font-weight="bold" textLength="97.31" lengthAdjust="spacing" xml:space="preserve">Performance</text>
<text id="p4tRMSE" x="420.80" y="327.20" font-size="18.0" textLength="132.71" lengthAdjust="spacing" xml:space="preserve">RMSE = 1.41E-11</text>
<text id="p4tMAE" x="420.10" y="347.20" font-size="18.0" textLength="123.92" lengthAdjust="spacing" xml:space="preserve">MAE = 7.63E-12</text>
<text id="p4tR" x="420.80" y="367.10" font-size="18.0" textLength="80.23" lengthAdjust="spacing" xml:space="preserve">R = 1.0000</text>
<text id="p4name" x="585.30" y="416.50" font-size="18.0" font-weight="bold" font-style="italic" textLength="71.52" lengthAdjust="spacing" xml:space="preserve">PO_DNN</text>
<text id="p4sTP" x="535.10" y="438.10" font-size="18.0" font-weight="bold" textLength="132.38" lengthAdjust="spacing" xml:space="preserve">Test Performance</text>
<text id="p4sRMSE" x="534.20" y="458.00" font-size="18.0" textLength="132.10" lengthAdjust="spacing" xml:space="preserve">RMSE = 1.21E-02</text>
<text id="p4sMAE" x="542.50" y="478.30" font-size="18.0" textLength="124.35" lengthAdjust="spacing" xml:space="preserve">MAE = 1.16E-02</text>
<text id="p4sR" x="582.40" y="498.10" font-size="18.0" textLength="84.29" lengthAdjust="spacing" xml:space="preserve">R =  0.9983</text>
<text id="p4lTrain" x="444.40" y="410.50" font-size="15.4" textLength="31.80" lengthAdjust="spacing" xml:space="preserve">Train</text>
<text id="p4lTest" x="444.40" y="432.60" font-size="15.4" textLength="24.37" lengthAdjust="spacing" xml:space="preserve">Test</text>
<rect x="548.12" y="752.50" width="1.4" height="9.10" fill="#5B9BD5"/>
<rect x="549.85" y="752.50" width="1.4" height="5.20" fill="#ED7D31"/>
<rect x="551.58" y="752.50" width="1.4" height="6.90" fill="#A5A5A5"/>
<rect x="553.31" y="752.50" width="1.4" height="14.40" fill="#FFC000"/>
<rect x="556.79" y="752.50" width="1.4" height="9.50" fill="#5B9BD5"/>
<rect x="558.52" y="752.50" width="1.4" height="8.70" fill="#ED7D31"/>
<rect x="560.25" y="752.50" width="1.4" height="10.90" fill="#A5A5A5"/>
<rect x="561.98" y="752.50" width="1.4" height="17.00" fill="#FFC000"/>
<rect x="565.45" y="752.50" width="1.4" height="31.00" fill="#5B9BD5"/>
<rect x="567.18" y="752.50" width="1.4" height="20.50" fill="#ED7D31"/>
<rect x="568.91" y="752.50" width="1.4" height="18.80" fill="#A5A5A5"/>
<rect x="570.64" y="752.50" width="1.4" height="28.00" fill="#FFC000"/>
<rect x="574.11" y="752.50" width="1.4" height="17.90" fill="#5B9BD5"/>
<rect x="575.84" y="752.50" width="1.4" height="10.00" fill="#ED7D31"/>
<rect x="577.57" y="752.50" width="1.4" height="17.00" fill="#A5A5A5"/>
<rect x="579.30" y="752.50" width="1.4" height="20.50" fill="#FFC000"/>
<rect x="582.78" y="752.50" width="1.4" height="14.00" fill="#5B9BD5"/>
<rect x="584.51" y="752.50" width="1.4" height="11.30" fill="#ED7D31"/>
<rect x="586.24" y="752.50" width="1.4" height="13.50" fill="#A5A5A5"/>
<rect x="587.97" y="752.50" width="1.4" height="13.10" fill="#FFC000"/>
<rect x="591.44" y="752.50" width="1.4" height="8.50" fill="#5B9BD5"/>
<rect x="593.17" y="752.50" width="1.4" height="8.00" fill="#ED7D31"/>
<rect x="594.90" y="752.50" width="1.4" height="10.50" fill="#A5A5A5"/>
<rect x="596.63" y="752.50" width="1.4" height="9.10" fill="#FFC000"/>
<rect x="600.10" y="752.50" width="1.4" height="11.10" fill="#5B9BD5"/>
<rect x="601.83" y="752.50" width="1.4" height="6.30" fill="#ED7D31"/>
<rect x="603.56" y="752.50" width="1.4" height="3.50" fill="#A5A5A5"/>
<rect x="605.29" y="752.50" width="1.4" height="13.30" fill="#FFC000"/>
<rect x="608.76" y="751.20" width="1.4" height="1.30" fill="#5B9BD5"/>
<rect x="610.49" y="752.50" width="1.4" height="0.70" fill="#ED7D31"/>
<rect x="612.22" y="752.50" width="1.4" height="1.10" fill="#A5A5A5"/>
<rect x="613.95" y="752.50" width="1.4" height="10.50" fill="#FFC000"/>
<rect x="617.43" y="752.50" width="1.4" height="1.90" fill="#5B9BD5"/>
<rect x="619.16" y="752.50" width="1.4" height="1.30" fill="#ED7D31"/>
<rect x="620.89" y="752.50" width="1.4" height="0.70" fill="#A5A5A5"/>
<rect x="622.62" y="752.50" width="1.4" height="7.20" fill="#FFC000"/>
<rect x="626.09" y="749.20" width="1.4" height="3.30" fill="#5B9BD5"/>
<rect x="627.82" y="752.50" width="1.4" height="0.10" fill="#ED7D31"/>
<rect x="629.55" y="752.50" width="1.4" height="3.00" fill="#A5A5A5"/>
<rect x="631.28" y="752.50" width="1.4" height="8.10" fill="#FFC000"/>
<rect x="634.75" y="752.50" width="1.4" height="8.10" fill="#5B9BD5"/>
<rect x="636.48" y="752.50" width="1.4" height="7.20" fill="#ED7D31"/>
<rect x="638.21" y="752.50" width="1.4" height="14.20" fill="#A5A5A5"/>
<rect x="639.94" y="752.50" width="1.4" height="17.30" fill="#FFC000"/>
<rect x="643.42" y="752.50" width="1.4" height="1.90" fill="#5B9BD5"/>
<rect x="645.15" y="752.50" width="1.4" height="3.70" fill="#ED7D31"/>
<rect x="646.88" y="752.50" width="1.4" height="5.00" fill="#A5A5A5"/>
<rect x="648.61" y="752.50" width="1.4" height="8.10" fill="#FFC000"/>
<line x1="66.00" y1="752.5" x2="650.8" y2="752.5" stroke="#404040" stroke-width="1.3"/>
<path d="M66.00,731.50 C67.44,730.33 71.78,724.40 74.66,724.50 C77.55,724.60 80.44,732.05 83.33,732.10 C86.21,732.15 89.10,723.92 91.99,724.80 C94.88,725.68 97.76,733.07 100.65,737.40 C103.54,741.73 106.43,749.35 109.31,750.80 C112.20,752.25 115.09,747.47 117.98,746.10 C120.86,744.73 123.75,743.87 126.64,742.60 C129.53,741.33 132.42,737.38 135.30,738.50 C138.19,739.62 141.08,748.55 143.97,749.30 C146.85,750.05 149.74,751.33 152.63,743.00 C155.52,734.67 158.40,707.97 161.29,699.30 C164.18,690.63 167.07,694.87 169.95,691.00 C172.84,687.13 175.73,674.12 178.62,676.10 C181.50,678.08 184.39,701.42 187.28,702.90 C190.17,704.38 193.06,689.32 195.94,685.00 C198.83,680.68 201.72,673.43 204.61,677.00 C207.49,680.57 210.38,703.40 213.27,706.40 C216.16,709.40 219.04,698.07 221.93,695.00 C224.82,691.93 227.71,684.70 230.59,688.00 C233.48,691.30 236.37,712.32 239.26,714.80 C242.14,717.28 245.03,707.37 247.92,702.90 C250.81,698.43 253.70,683.35 256.58,688.00 C259.47,692.65 262.36,724.93 265.25,730.80 C268.13,736.67 271.02,725.83 273.91,723.20 C276.80,720.57 279.68,718.32 282.57,715.00 C285.46,711.68 288.35,714.68 291.23,703.30 C294.12,691.92 297.01,658.08 299.90,646.70 C302.78,635.32 305.67,637.78 308.56,635.00 C311.45,632.22 314.34,632.78 317.22,630.00 C320.11,627.22 323.00,614.83 325.89,618.30 C328.77,621.77 331.66,650.52 334.55,650.80 C337.44,651.08 340.32,620.55 343.21,620.00 C346.10,619.45 348.99,643.88 351.87,647.50 C354.76,651.12 357.65,645.17 360.54,641.70 C363.42,638.23 366.31,621.15 369.20,626.70 C372.09,632.25 374.98,668.62 377.86,675.00 C380.75,681.38 383.64,667.78 386.53,665.00 C389.41,662.22 392.30,662.75 395.19,658.30 C398.08,653.85 400.96,632.18 403.85,638.30 C406.74,644.42 409.63,687.22 412.51,695.00 C415.40,702.78 418.29,691.12 421.18,685.00 C424.06,678.88 426.95,669.42 429.84,658.30 C432.73,647.18 435.62,628.57 438.50,618.30 C441.39,608.03 444.28,601.13 447.17,596.70 C450.05,592.27 452.94,589.35 455.83,591.70 C458.72,594.05 461.60,609.55 464.49,610.80 C467.38,612.05 470.27,602.12 473.15,599.20 C476.04,596.28 478.93,590.80 481.82,593.30 C484.70,595.80 487.59,613.08 490.48,614.20 C493.37,615.32 496.26,596.67 499.14,600.00 C502.03,603.33 504.92,630.58 507.81,634.20 C510.69,637.82 513.58,625.03 516.47,621.70 C519.36,618.37 522.24,610.18 525.13,614.20 C528.02,618.22 530.91,641.22 533.79,645.80 C536.68,650.38 539.57,626.58 542.46,641.70 C545.34,656.82 548.23,720.22 551.12,736.50 C554.01,752.78 556.90,737.68 559.78,739.40 C562.67,741.12 565.56,746.37 568.45,746.80 C571.33,747.23 574.22,744.98 577.11,742.00 C580.00,739.02 582.88,737.57 585.77,728.90 C588.66,720.23 591.55,697.60 594.43,690.00 C597.32,682.40 600.21,693.02 603.10,683.30 C605.98,673.58 608.87,642.25 611.76,631.70 C614.65,621.15 617.54,621.25 620.42,620.00 C623.31,618.75 626.20,626.70 629.09,624.20 C631.97,621.70 634.86,600.28 637.75,605.00 C640.64,609.72 644.97,644.58 646.41,652.50" fill="none" stroke="#5B9BD5" stroke-width="2.6" stroke-linejoin="round" stroke-linecap="round"/>
<path d="M66.00,731.50 C67.44,730.33 71.78,724.40 74.66,724.50 C77.55,724.60 80.44,732.05 83.33,732.10 C86.21,732.15 89.10,723.92 91.99,724.80 C94.88,725.68 97.76,733.07 100.65,737.40 C103.54,741.73 106.43,749.35 109.31,750.80 C112.20,752.25 115.09,747.47 117.98,746.10 C120.86,744.73 123.75,743.87 126.64,742.60 C129.53,741.33 132.42,737.38 135.30,738.50 C138.19,739.62 141.08,748.55 143.97,749.30 C146.85,750.05 149.74,751.33 152.63,743.00 C155.52,734.67 158.40,707.97 161.29,699.30 C164.18,690.63 167.07,694.87 169.95,691.00 C172.84,687.13 175.73,674.12 178.62,676.10 C181.50,678.08 184.39,701.42 187.28,702.90 C190.17,704.38 193.06,689.32 195.94,685.00 C198.83,680.68 201.72,673.43 204.61,677.00 C207.49,680.57 210.38,703.40 213.27,706.40 C216.16,709.40 219.04,698.07 221.93,695.00 C224.82,691.93 227.71,684.70 230.59,688.00 C233.48,691.30 236.37,712.32 239.26,714.80 C242.14,717.28 245.03,707.37 247.92,702.90 C250.81,698.43 253.70,683.35 256.58,688.00 C259.47,692.65 262.36,724.93 265.25,730.80 C268.13,736.67 271.02,725.83 273.91,723.20 C276.80,720.57 279.68,718.32 282.57,715.00 C285.46,711.68 288.35,714.68 291.23,703.30 C294.12,691.92 297.01,658.08 299.90,646.70 C302.78,635.32 305.67,637.78 308.56,635.00 C311.45,632.22 314.34,632.78 317.22,630.00 C320.11,627.22 323.00,614.83 325.89,618.30 C328.77,621.77 331.66,650.52 334.55,650.80 C337.44,651.08 340.32,620.55 343.21,620.00 C346.10,619.45 348.99,643.88 351.87,647.50 C354.76,651.12 357.65,645.17 360.54,641.70 C363.42,638.23 366.31,621.15 369.20,626.70 C372.09,632.25 374.98,668.62 377.86,675.00 C380.75,681.38 383.64,667.78 386.53,665.00 C389.41,662.22 392.30,662.75 395.19,658.30 C398.08,653.85 400.96,632.18 403.85,638.30 C406.74,644.42 409.63,687.22 412.51,695.00 C415.40,702.78 418.29,691.12 421.18,685.00 C424.06,678.88 426.95,669.42 429.84,658.30 C432.73,647.18 435.62,628.57 438.50,618.30 C441.39,608.03 444.28,601.13 447.17,596.70 C450.05,592.27 452.94,589.35 455.83,591.70 C458.72,594.05 461.60,609.55 464.49,610.80 C467.38,612.05 470.27,602.12 473.15,599.20 C476.04,596.28 478.93,590.80 481.82,593.30 C484.70,595.80 487.59,613.08 490.48,614.20 C493.37,615.32 496.26,596.67 499.14,600.00 C502.03,603.33 504.92,630.58 507.81,634.20 C510.69,637.82 513.58,625.03 516.47,621.70 C519.36,618.37 522.24,610.18 525.13,614.20 C528.02,618.22 530.91,641.22 533.79,645.80 C536.68,650.38 539.57,627.70 542.46,641.70 C545.34,655.70 548.23,716.15 551.12,729.80 C554.01,743.45 556.90,726.38 559.78,723.60 C562.67,720.82 565.56,713.53 568.45,713.10 C571.33,712.67 574.22,720.27 577.11,721.00 C580.00,721.73 582.88,724.17 585.77,717.50 C588.66,710.83 591.55,688.25 594.43,681.00 C597.32,673.75 600.21,682.50 603.10,674.00 C605.98,665.50 608.87,639.28 611.76,630.00 C614.65,620.72 617.54,618.58 620.42,618.30 C623.31,618.02 626.20,632.05 629.09,628.30 C631.97,624.55 634.86,592.05 637.75,595.80 C640.64,599.55 644.97,641.63 646.41,650.80" fill="none" stroke="#ED7D31" stroke-width="2.6" stroke-linejoin="round" stroke-linecap="round"/>
<path d="M66.00,731.50 C67.44,730.33 71.78,724.40 74.66,724.50 C77.55,724.60 80.44,732.05 83.33,732.10 C86.21,732.15 89.10,723.92 91.99,724.80 C94.88,725.68 97.76,733.07 100.65,737.40 C103.54,741.73 106.43,749.35 109.31,750.80 C112.20,752.25 115.09,747.47 117.98,746.10 C120.86,744.73 123.75,743.87 126.64,742.60 C129.53,741.33 132.42,737.38 135.30,738.50 C138.19,739.62 141.08,748.55 143.97,749.30 C146.85,750.05 149.74,751.33 152.63,743.00 C155.52,734.67 158.40,707.97 161.29,699.30 C164.18,690.63 167.07,694.87 169.95,691.00 C172.84,687.13 175.73,674.12 178.62,676.10 C181.50,678.08 184.39,701.42 187.28,702.90 C190.17,704.38 193.06,689.32 195.94,685.00 C198.83,680.68 201.72,673.43 204.61,677.00 C207.49,680.57 210.38,703.40 213.27,706.40 C216.16,709.40 219.04,698.07 221.93,695.00 C224.82,691.93 227.71,684.70 230.59,688.00 C233.48,691.30 236.37,712.32 239.26,714.80 C242.14,717.28 245.03,707.37 247.92,702.90 C250.81,698.43 253.70,683.35 256.58,688.00 C259.47,692.65 262.36,724.93 265.25,730.80 C268.13,736.67 271.02,725.83 273.91,723.20 C276.80,720.57 279.68,718.32 282.57,715.00 C285.46,711.68 288.35,714.68 291.23,703.30 C294.12,691.92 297.01,658.08 299.90,646.70 C302.78,635.32 305.67,637.78 308.56,635.00 C311.45,632.22 314.34,632.78 317.22,630.00 C320.11,627.22 323.00,614.83 325.89,618.30 C328.77,621.77 331.66,650.52 334.55,650.80 C337.44,651.08 340.32,620.55 343.21,620.00 C346.10,619.45 348.99,643.88 351.87,647.50 C354.76,651.12 357.65,645.17 360.54,641.70 C363.42,638.23 366.31,621.15 369.20,626.70 C372.09,632.25 374.98,668.62 377.86,675.00 C380.75,681.38 383.64,667.78 386.53,665.00 C389.41,662.22 392.30,662.75 395.19,658.30 C398.08,653.85 400.96,632.18 403.85,638.30 C406.74,644.42 409.63,687.22 412.51,695.00 C415.40,702.78 418.29,691.12 421.18,685.00 C424.06,678.88 426.95,669.42 429.84,658.30 C432.73,647.18 435.62,628.57 438.50,618.30 C441.39,608.03 444.28,601.13 447.17,596.70 C450.05,592.27 452.94,589.35 455.83,591.70 C458.72,594.05 461.60,609.55 464.49,610.80 C467.38,612.05 470.27,602.12 473.15,599.20 C476.04,596.28 478.93,590.80 481.82,593.30 C484.70,595.80 487.59,613.08 490.48,614.20 C493.37,615.32 496.26,596.67 499.14,600.00 C502.03,603.33 504.92,630.58 507.81,634.20 C510.69,637.82 513.58,625.03 516.47,621.70 C519.36,618.37 522.24,610.18 525.13,614.20 C528.02,618.22 530.91,641.22 533.79,645.80 C536.68,650.38 539.57,627.47 542.46,641.70 C545.34,655.93 548.23,716.82 551.12,731.20 C554.01,745.58 556.90,728.97 559.78,728.00 C562.67,727.03 565.56,724.97 568.45,725.40 C571.33,725.83 574.22,731.77 577.11,730.60 C580.00,729.43 582.88,726.55 585.77,718.40 C588.66,710.25 591.55,688.65 594.43,681.70 C597.32,674.75 600.21,685.18 603.10,676.70 C605.98,668.22 608.87,640.38 611.76,630.80 C614.65,621.22 617.54,620.30 620.42,619.20 C623.31,618.10 626.20,627.68 629.09,624.20 C631.97,620.72 634.86,594.13 637.75,598.30 C640.64,602.47 644.97,640.72 646.41,649.20" fill="none" stroke="#A5A5A5" stroke-width="2.6" stroke-linejoin="round" stroke-linecap="round"/>
<path d="M66.00,731.50 C67.44,730.33 71.78,724.40 74.66,724.50 C77.55,724.60 80.44,732.05 83.33,732.10 C86.21,732.15 89.10,723.92 91.99,724.80 C94.88,725.68 97.76,733.07 100.65,737.40 C103.54,741.73 106.43,749.35 109.31,750.80 C112.20,752.25 115.09,747.47 117.98,746.10 C120.86,744.73 123.75,743.87 126.64,742.60 C129.53,741.33 132.42,737.38 135.30,738.50 C138.19,739.62 141.08,748.55 143.97,749.30 C146.85,750.05 149.74,751.33 152.63,743.00 C155.52,734.67 158.40,707.97 161.29,699.30 C164.18,690.63 167.07,694.87 169.95,691.00 C172.84,687.13 175.73,674.12 178.62,676.10 C181.50,678.08 184.39,701.42 187.28,702.90 C190.17,704.38 193.06,689.32 195.94,685.00 C198.83,680.68 201.72,673.43 204.61,677.00 C207.49,680.57 210.38,703.40 213.27,706.40 C216.16,709.40 219.04,698.07 221.93,695.00 C224.82,691.93 227.71,684.70 230.59,688.00 C233.48,691.30 236.37,712.32 239.26,714.80 C242.14,717.28 245.03,707.37 247.92,702.90 C250.81,698.43 253.70,683.35 256.58,688.00 C259.47,692.65 262.36,724.93 265.25,730.80 C268.13,736.67 271.02,725.83 273.91,723.20 C276.80,720.57 279.68,718.32 282.57,715.00 C285.46,711.68 288.35,714.68 291.23,703.30 C294.12,691.92 297.01,658.08 299.90,646.70 C302.78,635.32 305.67,637.78 308.56,635.00 C311.45,632.22 314.34,632.78 317.22,630.00 C320.11,627.22 323.00,614.83 325.89,618.30 C328.77,621.77 331.66,650.52 334.55,650.80 C337.44,651.08 340.32,620.55 343.21,620.00 C346.10,619.45 348.99,643.88 351.87,647.50 C354.76,651.12 357.65,645.17 360.54,641.70 C363.42,638.23 366.31,621.15 369.20,626.70 C372.09,632.25 374.98,668.62 377.86,675.00 C380.75,681.38 383.64,667.78 386.53,665.00 C389.41,662.22 392.30,662.75 395.19,658.30 C398.08,653.85 400.96,632.18 403.85,638.30 C406.74,644.42 409.63,687.22 412.51,695.00 C415.40,702.78 418.29,691.12 421.18,685.00 C424.06,678.88 426.95,669.42 429.84,658.30 C432.73,647.18 435.62,628.57 438.50,618.30 C441.39,608.03 444.28,601.13 447.17,596.70 C450.05,592.27 452.94,589.35 455.83,591.70 C458.72,594.05 461.60,609.55 464.49,610.80 C467.38,612.05 470.27,602.12 473.15,599.20 C476.04,596.28 478.93,590.80 481.82,593.30 C484.70,595.80 487.59,613.08 490.48,614.20 C493.37,615.32 496.26,596.67 499.14,600.00 C502.03,603.33 504.92,630.58 507.81,634.20 C510.69,637.82 513.58,625.03 516.47,621.70 C519.36,618.37 522.24,610.18 525.13,614.20 C528.02,618.22 530.91,641.22 533.79,645.80 C536.68,650.38 539.57,627.30 542.46,641.70 C545.34,656.10 548.23,717.97 551.12,732.20 C554.01,746.43 556.90,728.17 559.78,727.10 C562.67,726.03 565.56,726.38 568.45,725.80 C571.33,725.22 574.22,724.90 577.11,723.60 C580.00,722.30 582.88,725.27 585.77,718.00 C588.66,710.73 591.55,687.45 594.43,680.00 C597.32,672.55 600.21,681.63 603.10,673.30 C605.98,664.97 608.87,639.17 611.76,630.00 C614.65,620.83 617.54,619.55 620.42,618.30 C623.31,617.05 626.20,626.93 629.09,622.50 C631.97,618.07 634.86,587.53 637.75,591.70 C640.64,595.87 644.97,638.20 646.41,647.50" fill="none" stroke="#FFC000" stroke-width="3.2" stroke-linejoin="round" stroke-linecap="round"/>
<path d="M66.00,731.50 C67.44,730.33 71.78,724.40 74.66,724.50 C77.55,724.60 80.44,732.05 83.33,732.10 C86.21,732.15 89.10,723.92 91.99,724.80 C94.88,725.68 97.76,733.07 100.65,737.40 C103.54,741.73 106.43,749.35 109.31,750.80 C112.20,752.25 115.09,747.47 117.98,746.10 C120.86,744.73 123.75,743.87 126.64,742.60 C129.53,741.33 132.42,737.38 135.30,738.50 C138.19,739.62 141.08,748.55 143.97,749.30 C146.85,750.05 149.74,751.33 152.63,743.00 C155.52,734.67 158.40,707.97 161.29,699.30 C164.18,690.63 167.07,694.87 169.95,691.00 C172.84,687.13 175.73,674.12 178.62,676.10 C181.50,678.08 184.39,701.42 187.28,702.90 C190.17,704.38 193.06,689.32 195.94,685.00 C198.83,680.68 201.72,673.43 204.61,677.00 C207.49,680.57 210.38,703.40 213.27,706.40 C216.16,709.40 219.04,698.07 221.93,695.00 C224.82,691.93 227.71,684.70 230.59,688.00 C233.48,691.30 236.37,712.32 239.26,714.80 C242.14,717.28 245.03,707.37 247.92,702.90 C250.81,698.43 253.70,683.35 256.58,688.00 C259.47,692.65 262.36,724.93 265.25,730.80 C268.13,736.67 271.02,725.83 273.91,723.20 C276.80,720.57 279.68,718.32 282.57,715.00 C285.46,711.68 288.35,714.68 291.23,703.30 C294.12,691.92 297.01,658.08 299.90,646.70 C302.78,635.32 305.67,637.78 308.56,635.00 C311.45,632.22 314.34,632.78 317.22,630.00 C320.11,627.22 323.00,614.83 325.89,618.30 C328.77,621.77 331.66,650.52 334.55,650.80 C337.44,651.08 340.32,620.55 343.21,620.00 C346.10,619.45 348.99,643.88 351.87,647.50 C354.76,651.12 357.65,645.17 360.54,641.70 C363.42,638.23 366.31,621.15 369.20,626.70 C372.09,632.25 374.98,668.62 377.86,675.00 C380.75,681.38 383.64,667.78 386.53,665.00 C389.41,662.22 392.30,662.75 395.19,658.30 C398.08,653.85 400.96,632.18 403.85,638.30 C406.74,644.42 409.63,687.22 412.51,695.00 C415.40,702.78 418.29,691.12 421.18,685.00 C424.06,678.88 426.95,669.42 429.84,658.30 C432.73,647.18 435.62,628.57 438.50,618.30 C441.39,608.03 444.28,601.13 447.17,596.70 C450.05,592.27 452.94,589.35 455.83,591.70 C458.72,594.05 461.60,609.55 464.49,610.80 C467.38,612.05 470.27,602.12 473.15,599.20 C476.04,596.28 478.93,590.80 481.82,593.30 C484.70,595.80 487.59,613.08 490.48,614.20 C493.37,615.32 496.26,596.67 499.14,600.00 C502.03,603.33 504.92,630.58 507.81,634.20 C510.69,637.82 513.58,625.03 516.47,621.70 C519.36,618.37 522.24,610.18 525.13,614.20 C528.02,618.22 530.91,641.22 533.79,645.80 C536.68,650.38 539.57,628.67 542.46,641.70 C545.34,654.73 548.23,710.78 551.12,724.00 C554.01,737.22 556.90,722.15 559.78,721.00 C562.67,719.85 565.56,717.17 568.45,717.10 C571.33,717.03 574.22,720.97 577.11,720.60 C580.00,720.23 582.88,721.67 585.77,714.90 C588.66,708.13 591.55,687.35 594.43,680.00 C597.32,672.65 600.21,680.25 603.10,670.80 C605.98,661.35 608.87,633.02 611.76,623.30 C614.65,613.58 617.54,613.75 620.42,612.50 C623.31,611.25 626.20,619.97 629.09,615.80 C631.97,611.63 634.86,582.77 637.75,587.50 C640.64,592.23 644.97,634.75 646.41,644.20" fill="none" stroke="#4472C4" stroke-width="3.4" stroke-linejoin="round" stroke-linecap="round"/>
<line x1="545.3" y1="570.10" x2="545.3" y2="788.80" stroke="#000" stroke-width="2.2"/>
<rect x="66.00" y="570.10" width="606.40" height="218.70" fill="none" stroke="#000" stroke-width="1.9"/>
<text x="51.90" y="794.80" font-size="15.5" text-anchor="end" xml:space="preserve">0.00</text>
<text x="51.90" y="740.12" font-size="15.5" text-anchor="end" xml:space="preserve">0.05</text>
<text x="51.90" y="685.45" font-size="15.5" text-anchor="end" xml:space="preserve">0.10</text>
<text x="51.90" y="630.77" font-size="15.5" text-anchor="end" xml:space="preserve">0.15</text>
<text x="51.90" y="576.10" font-size="15.5" text-anchor="end" xml:space="preserve">0.20</text>
<text x="66.00" y="812.60" font-size="15.5" text-anchor="middle" xml:space="preserve">0</text>
<text x="109.31" y="812.60" font-size="15.5" text-anchor="middle" xml:space="preserve">5</text>
<text x="152.63" y="812.60" font-size="15.5" text-anchor="middle" xml:space="preserve">10</text>
<text x="195.94" y="812.60" font-size="15.5" text-anchor="middle" xml:space="preserve">15</text>
<text x="239.26" y="812.60" font-size="15.5" text-anchor="middle" xml:space="preserve">20</text>
<text x="282.57" y="812.60" font-size="15.5" text-anchor="middle" xml:space="preserve">25</text>
<text x="325.89" y="812.60" font-size="15.5" text-anchor="middle" xml:space="preserve">30</text>
<text x="369.20" y="812.60" font-size="15.5" text-anchor="middle" xml:space="preserve">35</text>
<text x="412.51" y="812.60" font-size="15.5" text-anchor="middle" xml:space="preserve">40</text>
<text x="455.83" y="812.60" font-size="15.5" text-anchor="middle" xml:space="preserve">45</text>
<text x="499.14" y="812.60" font-size="15.5" text-anchor="middle" xml:space="preserve">50</text>
<text x="542.46" y="812.60" font-size="15.5" text-anchor="middle" xml:space="preserve">55</text>
<text x="585.77" y="812.60" font-size="15.5" text-anchor="middle" xml:space="preserve">60</text>
<text x="629.09" y="812.60" font-size="15.5" text-anchor="middle" xml:space="preserve">65</text>
<text x="672.40" y="812.60" font-size="15.5" text-anchor="middle" xml:space="preserve">70</text>
<text id="bxt" x="291.60" y="837.00" font-size="18.0" textLength="154.64" lengthAdjust="spacing" xml:space="preserve">Number of Specimens</text>
<text transform="translate(15.9,679.45) rotate(-90)" font-size="18.0" text-anchor="middle">F<tspan font-size="12" dy="3.9">Tr</tspan></text>
<line x1="73" y1="584.8" x2="106.5" y2="584.8" stroke="#5B9BD5" stroke-width="2.25" stroke-linecap="round"/>
<text id="blActual" x="109.90" y="590.10" font-size="15.6" textLength="42.06" lengthAdjust="spacing" xml:space="preserve">Actual</text>
<line x1="196.5" y1="584.8" x2="230.0" y2="584.8" stroke="#ED7D31" stroke-width="2.25" stroke-linecap="round"/>
<text id="blLM_DNN" x="233.70" y="590.00" font-size="15.6" textLength="65.94" lengthAdjust="spacing" xml:space="preserve">LM_DNN</text>
<line x1="73" y1="608.1" x2="106.5" y2="608.1" stroke="#A5A5A5" stroke-width="2.25" stroke-linecap="round"/>
<text id="blSWO_DNN" x="109.70" y="613.50" font-size="15.6" textLength="76.70" lengthAdjust="spacing" xml:space="preserve">SWO_DNN</text>
<line x1="196.5" y1="608.1" x2="230.0" y2="608.1" stroke="#FFC000" stroke-width="2.25" stroke-linecap="round"/>
<text id="blPO_DNN" x="233.60" y="613.30" font-size="15.6" textLength="62.48" lengthAdjust="spacing" xml:space="preserve">PO_DNN</text>
<line x1="73" y1="631.5" x2="106.5" y2="631.5" stroke="#4472C4" stroke-width="2.8" stroke-linecap="round"/>
<text id="blWO_DNN" x="110.50" y="636.40" font-size="15.6" textLength="68.52" lengthAdjust="spacing" xml:space="preserve">WO_DNN</text>
<text id="bTrain" x="489.70" y="675.60" font-size="19.4" font-weight="bold" fill="#FF0000" textLength="44.97" lengthAdjust="spacing" xml:space="preserve">Train</text>
<text id="bTest" x="551.60" y="675.60" font-size="19.4" font-weight="bold" fill="#00B050" textLength="36.97" lengthAdjust="spacing" xml:space="preserve">Test</text>
<text id="bResid" x="329.80" y="747.80" font-size="19.5" font-weight="bold" fill="#C00000" textLength="119.95" lengthAdjust="spacing" xml:space="preserve">Residual Scale</text></svg>
</body></html>
